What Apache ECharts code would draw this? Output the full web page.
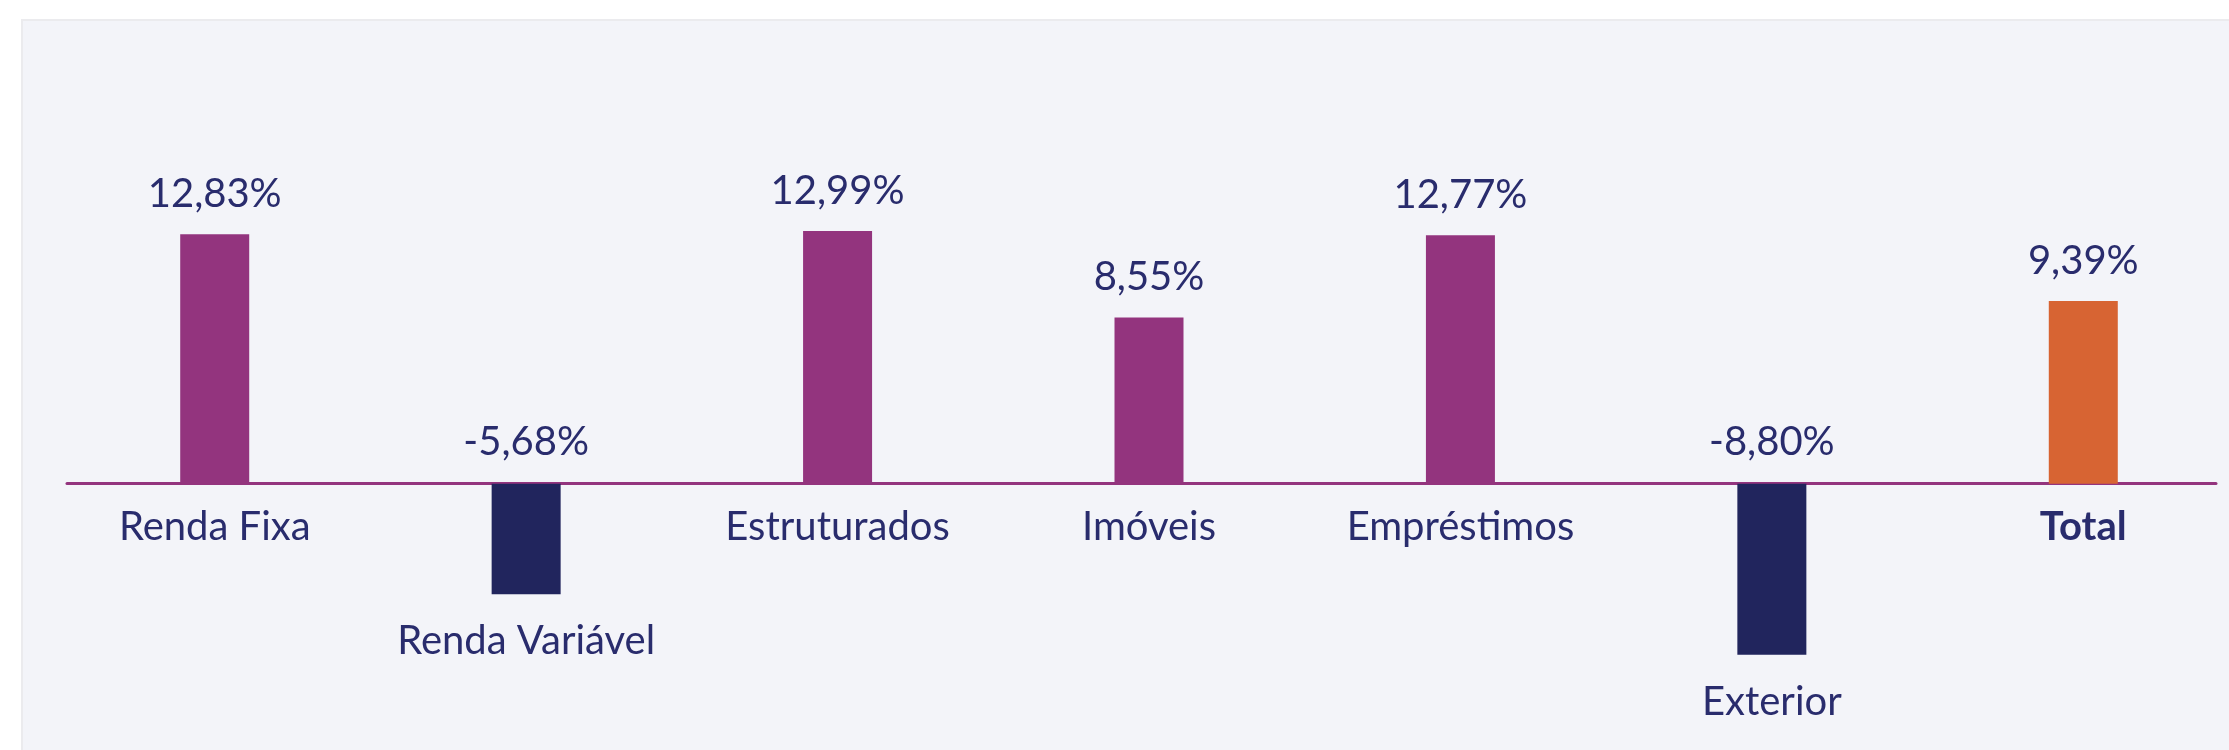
<!DOCTYPE html>
<html>
<head>
<meta charset="utf-8">
<script src="https://cdn.jsdelivr.net/npm/echarts@6/dist/echarts.min.js"></script>
<style>
html, body { margin: 0; padding: 0; background: #ffffff; overflow: hidden; }
.panel {
    position: absolute;
    left: 21px;
    top: 19px;
    width: 2240px;
    height: 760px;
    background: #f3f4f9;
    border: 2px solid #ebebee;
    box-sizing: border-box;
}
/* um pouco mais largo que a janela: a ultima faixa passa da borda */
#chart { position: absolute; left: 0; top: 0; width: 2240px; height: 750px; }
</style>
</head>
<body>
<div class="panel"></div>
<div id="chart"></div>
<script>
// dados
var categories = ['Renda Fixa', 'Renda Variável', 'Estruturados', 'Imóveis', 'Empréstimos', 'Exterior', 'Total'];
var returns = [12.83, -5.68, 12.99, 8.55, 12.77, -8.80, 9.39];

var purple = '#93347e';
var navy = '#21255d';
var orange = '#d76433';
var textColor = '#292c6d';
var font = 'Lato';

function pct(v) {
    return v.toFixed(2).replace('.', ',') + '%';
}

var myChart = echarts.init(document.getElementById('chart'));

var barData = returns.map(function (v, i) {
    var color = categories[i] === 'Total' ? orange : (v < 0 ? navy : purple);
    return {
        value: v,
        itemStyle: { color: color },
        label: { distance: v < 0 ? 22 : 20 }
    };
});

// serie invisivel so pra colocar o nome da categoria embaixo da barra
var nameData = returns.map(function (v, i) {
    var item = { value: v, label: { distance: v < 0 ? 27 : 23 } };
    if (categories[i] === 'Total') {
        item.label.fontWeight = 'bold';
    }
    return item;
});

var option = {
    animation: false,
    backgroundColor: 'transparent',
    grid: [
        {
            left: 59,
            right: 1,
            top: 211.4,
            height: 466.8
        },
        {
            // so pra linha do eixo zero
            left: 67,
            right: 24,
            top: 400,
            height: 83.7
        }
    ],
    xAxis: [
        {
            type: 'category',
            data: categories,
            axisLine: { show: false },
            axisTick: { show: false },
            axisLabel: { show: false },
            splitLine: { show: false }
        },
        {
            type: 'value',
            gridIndex: 1,
            min: 0,
            max: 1,
            position: 'bottom',
            axisLine: {
                show: true,
                onZero: false,
                lineStyle: { color: purple, width: 3 }
            },
            axisTick: { show: false },
            axisLabel: { show: false },
            splitLine: { show: false }
        }
    ],
    yAxis: [
        {
            type: 'value',
            min: -10,
            max: 14,
            show: false,
            splitLine: { show: false }
        },
        {
            type: 'value',
            gridIndex: 1,
            show: false
        }
    ],
    series: [
        {
            type: 'bar',
            data: barData,
            barWidth: 69,
            z: 3,
            label: {
                show: true,
                position: 'top',
                fontFamily: font,
                fontSize: 40,
                color: textColor,
                formatter: function (p) { return pct(p.value); }
            }
        },
        {
            type: 'bar',
            data: nameData,
            barWidth: 69,
            barGap: '-100%',
            silent: true,
            itemStyle: { color: 'rgba(0,0,0,0)' },
            label: {
                show: true,
                position: 'bottom',
                fontFamily: font,
                fontSize: 40,
                color: textColor,
                formatter: function (p) { return p.name; }
            }
        }
    ]
};

myChart.setOption(option);
</script>
</body>
</html>
